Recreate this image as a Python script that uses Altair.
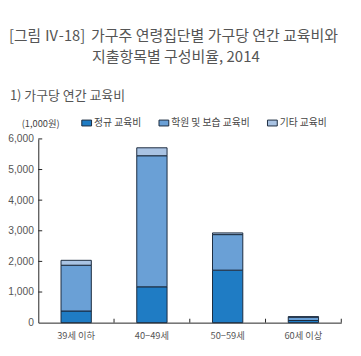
import altair as alt
import pandas as pd

# ---- data ----
categories = ["39세 이하", "40−49세", "50−59세", "60세 이상"]
series = ["정규 교육비", "학원 및 보습 교육비", "기타 교육비"]
regular = [380, 1170, 1715, 70]
academy = [1495, 4280, 1160, 110]
other = [160, 260, 55, 15]
y_ticks = [1000, 2000, 3000, 4000, 5000, 6000]

title_tag = "[그림 Ⅳ-18]"
title_line1 = "가구주 연령집단별 가구당 연간 교육비와"
title_line2 = "지출항목별 구성비율, 2014"
subtitle = "1) 가구당 연간 교육비"
unit_label = "(1,000원)"

colors = ["#1f7cc4", "#6aa0d6", "#a9c3e3"]
edge = "#1b2a3d"
W, H = 310, 188
KR = "Noto Sans CJK KR"

rows = []
for i, c in enumerate(categories):
    for j, (s, vals) in enumerate(zip(series, [regular, academy, other])):
        rows.append({"cat": c, "series": s, "value": vals[i], "ord": j})
df = pd.DataFrame(rows)

xscale = alt.Scale(domain=categories, paddingInner=0, paddingOuter=0)
yscale = alt.Scale(domain=[0, 6000], nice=False)

x_axis = alt.Axis(title=None, labelAngle=0, ticks=False, domainColor="#222",
                  labelFont=KR, labelFontSize=9.5, labelColor="#555", labelPadding=8)
y_axis = alt.Axis(title=None, values=[0] + y_ticks,
                  labelExpr="format(datum.value, ',')", labelOverlap=False,
                  ticks=False, grid=False, domainColor="#222",
                  labelFont="Liberation Sans", labelFontSize=10.5,
                  labelColor="#555", labelPadding=5)

bars = alt.Chart(df).mark_bar(
    width=alt.RelativeBandSize(0.4), stroke=edge, strokeWidth=1
).encode(
    x=alt.X("cat:N", scale=xscale, sort=categories, axis=x_axis),
    y=alt.Y("value:Q", scale=yscale, stack="zero", axis=y_axis),
    color=alt.Color("series:N", scale=alt.Scale(domain=series, range=colors),
                    legend=alt.Legend(title=None, orient="none", legendX=44, legendY=-22,
                                      direction="horizontal",
                                      symbolType="M-1,-0.6H1V0.6H-1Z", symbolSize=100,
                                      symbolStrokeColor=edge, symbolStrokeWidth=1,
                                      labelFont=KR, labelFontSize=10, labelColor="#444",
                                      labelOffset=2, columnPadding=15)),
    order=alt.Order("ord:Q"),
)

xt = pd.DataFrame({"cat": categories[1:]})
xticks = alt.Chart(xt).mark_rule(color="#222", strokeWidth=1).encode(
    x=alt.X("cat:N", scale=xscale, sort=categories, bandPosition=0, axis=x_axis),
    y=alt.value(H - 4), y2=alt.value(H),
)
xend = alt.Chart(pd.DataFrame({"a": [0]})).mark_rule(color="#222", strokeWidth=1).encode(
    x=alt.value(W), y=alt.value(H - 4), y2=alt.value(H),
)
yt = pd.DataFrame({"value": y_ticks})
yticks = alt.Chart(yt).mark_rule(color="#222", strokeWidth=1).encode(
    y=alt.Y("value:Q", scale=yscale, axis=y_axis), x=alt.value(0), x2=alt.value(4),
)

def label(txt, x, y, size, color="#555", font=KR, align="left"):
    return alt.Chart(pd.DataFrame({"t": [txt]})).mark_text(
        font=font, fontSize=size, color=color, align=align, baseline="middle"
    ).encode(text="t:N", x=alt.value(x), y=alt.value(y))

texts = [
    label(title_tag, -30, -105, 15),
    label(title_line1, 54, -105, 15.3),
    label(title_line2, 55, -84, 15.3),
    label(subtitle, -29, -44, 13.2),
    label(unit_label, -17, -15, 9.5, "#444"),
]

chart = alt.layer(bars, xticks, xend, yticks, *texts).properties(
    width=W, height=H,
    padding={"left": 31, "top": 130, "right": 12, "bottom": 22},
    autosize=alt.AutoSizeParams(type="none"),
    background="white",
).configure_view(stroke=None)

chart.save("out.html", embed_options={"renderer": "svg", "actions": False})
